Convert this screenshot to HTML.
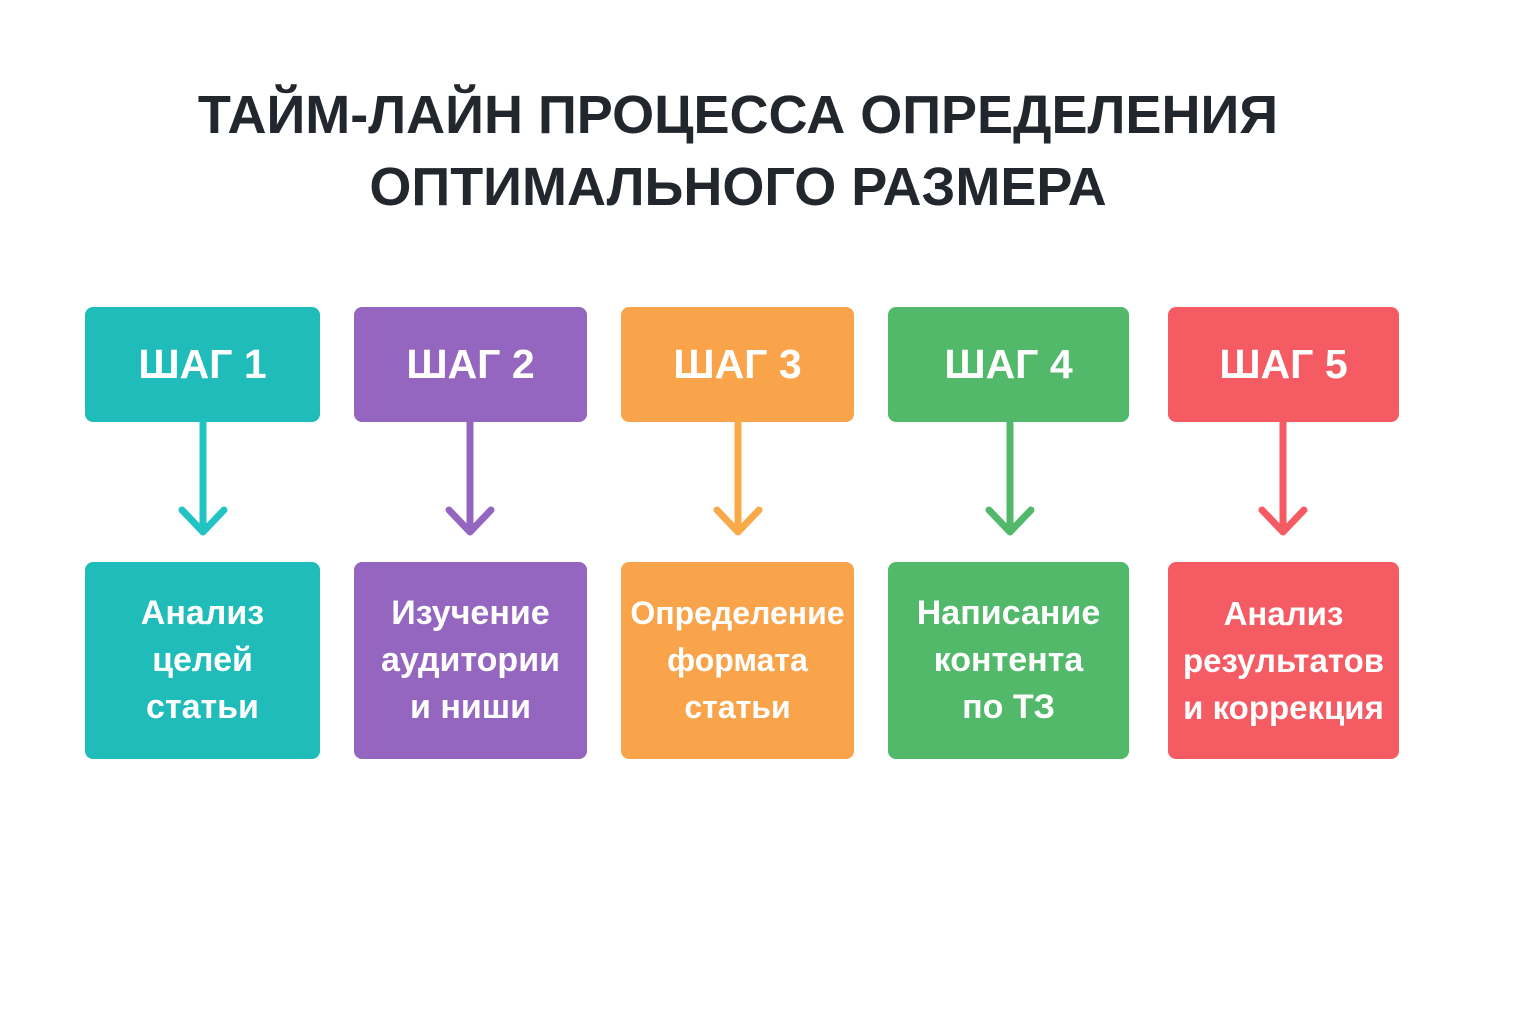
<!DOCTYPE html>
<html><head><meta charset="utf-8"><style>
html,body{margin:0;padding:0;background:#fff;width:1536px;height:1024px;overflow:hidden;font-family:"Liberation Sans","DejaVu Sans",sans-serif;}
.t{position:absolute;left:0;width:1476px;text-align:center;font-weight:bold;color:#22272e;font-size:54px;line-height:70px;}
.b{position:absolute;border-radius:8px;color:#fff;font-weight:bold;display:flex;align-items:center;justify-content:center;text-align:center;white-space:nowrap;}
.h{top:307px;height:115px;font-size:41px;}
.l{top:562px;height:197px;font-size:34px;line-height:47px;}
</style></head><body>
<div class="t" style="top:80px">ТАЙМ-ЛАЙН ПРОЦЕССА ОПРЕДЕЛЕНИЯ</div>
<div class="t" style="top:152px">ОПТИМАЛЬНОГО РАЗМЕРА</div>

<div class="b h" style="left:85px;width:235px;background:#20bcb9">ШАГ 1</div>
<div class="b h" style="left:354px;width:233px;background:#9466c0">ШАГ 2</div>
<div class="b h" style="left:621px;width:233px;background:#f9a44a">ШАГ 3</div>
<div class="b h" style="left:888px;width:241px;background:#52b96a">ШАГ 4</div>
<div class="b h" style="left:1168px;width:231px;background:#f45b63">ШАГ 5</div>

<div class="b l" style="left:85px;width:235px;background:#20bcb9">Анализ<br>целей<br>статьи</div>
<div class="b l" style="left:354px;width:233px;background:#9466c0">Изучение<br>аудитории<br>и ниши</div>
<div class="b l" style="left:621px;width:233px;background:#f9a44a;font-size:32px">Определение<br>формата<br>статьи</div>
<div class="b l" style="left:888px;width:241px;background:#52b96a">Написание<br>контента<br>по ТЗ</div>
<div class="b l" style="left:1168px;width:231px;background:#f45b63;font-size:33px">Анализ<br>результатов<br>и коррекция</div>

<svg width="1536" height="1024" style="position:absolute;left:0;top:0" fill="none" stroke-width="7" stroke-linecap="round" stroke-linejoin="round">
<g stroke="#22c3c3"><line x1="203" y1="422" x2="203" y2="530"/><polyline points="182,510 203,532 224,510"/></g>
<g stroke="#9466c0"><line x1="470" y1="422" x2="470" y2="530"/><polyline points="449,510 470,532 491,510"/></g>
<g stroke="#f9aa48"><line x1="738" y1="422" x2="738" y2="530"/><polyline points="717,510 738,532 759,510"/></g>
<g stroke="#52b96a"><line x1="1010" y1="422" x2="1010" y2="530"/><polyline points="989,510 1010,532 1031,510"/></g>
<g stroke="#f45b63"><line x1="1283" y1="422" x2="1283" y2="530"/><polyline points="1262,510 1283,532 1304,510"/></g>
</svg>
</body></html>
